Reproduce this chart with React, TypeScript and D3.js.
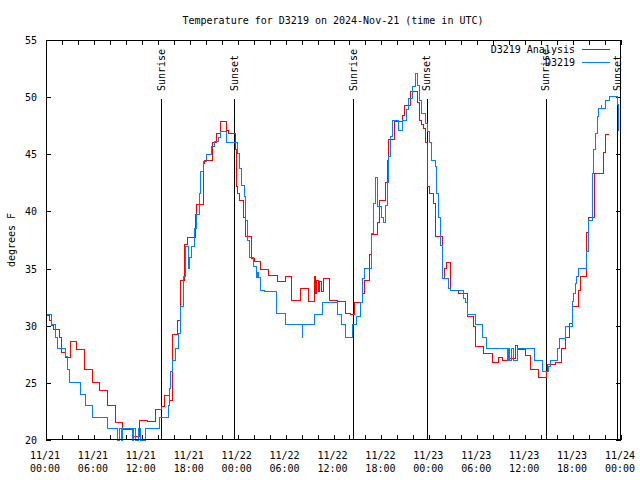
import React from "react";
import * as d3 from "d3";

// ---- data (hours since 2024-11-21 00:00 UTC, degrees F), step series ----
const obsSeries: [number, number][] = [
  [0, 31.0], [0.63, 30.1], [1.13, 29.0], [1.5, 28.0], [2.5, 27.3], [2.75, 26.2], [3.0, 25.0],
  [4.26, 24.0], [5.0, 23.0], [5.76, 22.0], [7.76, 21.0], [9.0, 20.0], [9.25, 21.0], [9.4, 20.0],
  [9.6, 21.0], [10.77, 20.0], [11.0, 21.0], [11.2, 20.0], [11.6, 21.0], [11.8, 20.0], [12.4, 21.0],
  [14.27, 22.0], [15.28, 23.0], [15.5, 24.5], [15.65, 26.0], [15.9, 27.0], [16.2, 28.0], [16.55, 29.3],
  [16.85, 31.7], [17.2, 34.3], [17.5, 36.9], [17.8, 35.0], [18.03, 36.0], [18.25, 36.9], [18.55, 38.5],
  [18.87, 39.7], [19.16, 41.6], [19.4, 43.5], [19.7, 44.4], [20.1, 45.0], [20.75, 45.7], [21.16, 46.1],
  [21.58, 46.5], [21.79, 47.0], [22.54, 46.0], [23.95, 45.1], [24.2, 43.8], [24.5, 42.3], [24.84, 41.3],
  [25.0, 39.2], [25.26, 37.5], [25.54, 36.0], [25.96, 35.2], [26.3, 34.2], [26.5, 34.7], [26.6, 34.2],
  [26.92, 33.1], [27.42, 33.0], [28.88, 31.1], [30.05, 30.1], [32.06, 29.0], [32.18, 30.1], [33.56, 31.0],
  [34.56, 32.0], [36.56, 31.0], [37.06, 30.1], [37.44, 29.0], [38.44, 30.1], [38.94, 30.8], [39.32, 32.0],
  [39.69, 34.1], [39.94, 35.0], [40.82, 38.1], [40.95, 40.7], [41.2, 43.0], [41.45, 42.5], [41.57, 40.4],
  [42.07, 39.5], [42.2, 39.0], [42.45, 40.5], [42.7, 42.5], [42.83, 44.8], [43.08, 46.6], [43.45, 48.0],
  [44.08, 47.1], [44.7, 48.0], [45.2, 48.9], [45.33, 49.9], [45.83, 50.9], [46.21, 52.1], [46.58, 51.0],
  [46.83, 49.75], [47.08, 48.6], [47.46, 47.7], [47.71, 47.0], [47.96, 46.0], [48.33, 44.5], [48.71, 43.9],
  [48.84, 41.6], [49.09, 39.5], [49.34, 37.0], [49.59, 35.0], [49.71, 34.1], [50.34, 33.3], [50.59, 33.1],
  [52.22, 32.4], [52.47, 32.0], [52.72, 31.0], [53.72, 30.1], [54.6, 29.0], [55.22, 28.0], [57.73, 27.0],
  [57.9, 28.0], [58.1, 27.0], [58.3, 28.0], [58.5, 27.0], [58.98, 28.0], [61.23, 27.0], [62.23, 26.0],
  [62.86, 26.4], [63.11, 27.0], [64.11, 28.0], [64.36, 28.9], [64.99, 29.9], [65.87, 32.1], [65.99, 32.8],
  [66.24, 33.7], [66.49, 34.3], [66.62, 35.0], [67.74, 36.5], [67.87, 39.25], [68.37, 43.3], [68.5, 45.4],
  [68.75, 46.8], [69.0, 48.3], [69.12, 49.0], [69.5, 49.3], [69.62, 49.0], [70.0, 49.75], [70.5, 50.1],
  [71.5, 49.4], [71.63, 47.1], [71.75, 47.1],
];

const anaSeries: [number, number][] = [
  [0, 30.9], [0.38, 30.5], [0.75, 30.0], [0.88, 29.7], [1.63, 29.0], [2.0, 27.7], [2.5, 27.2],
  [3.13, 28.6], [3.76, 27.9], [4.76, 26.2], [5.76, 25.0], [6.76, 24.3], [7.76, 23.0], [8.7, 21.5],
  [9.64, 20.9], [10.9, 20.35], [11.77, 21.7], [12.65, 21.6], [13.77, 22.7], [14.5, 22.9], [14.78, 23.9],
  [15.5, 23.5], [15.78, 29.2], [16.5, 30.5], [16.78, 32.9], [16.9, 34.0], [17.4, 37.1], [17.78, 37.7],
  [18.66, 39.7], [18.9, 40.6], [19.66, 43.2], [19.78, 44.2], [19.9, 44.5], [20.79, 46.0], [21.41, 46.8],
  [21.79, 47.9], [22.66, 47.1], [22.9, 46.8], [23.67, 45.4], [23.85, 44.6], [23.9, 42.2], [24.04, 41.6],
  [24.17, 41.0], [24.67, 39.5], [25.04, 37.8], [25.7, 35.9], [26.05, 35.6], [26.8, 34.9], [27.8, 34.4],
  [28.93, 33.9], [29.93, 34.3], [30.8, 32.25], [31.9, 33.3], [32.81, 32.1], [33.56, 34.3], [33.75, 32.8],
  [33.9, 34.0], [34.1, 33.0], [34.3, 33.9], [34.5, 33.0], [34.69, 34.1], [35.56, 32.25], [36.44, 32.1],
  [37.44, 31.1], [38.07, 31.0], [38.57, 31.5], [38.69, 32.0], [39.57, 32.8], [39.82, 34.0], [40.57, 36.2],
  [40.82, 38.0], [41.57, 39.0], [41.7, 41.0], [42.57, 42.5], [42.7, 44.5], [42.83, 46.3], [43.58, 47.1],
  [43.7, 47.9], [44.7, 48.4], [44.95, 49.3], [45.58, 50.5], [46.58, 49.5], [46.83, 48.0], [47.08, 47.6],
  [47.33, 47.3], [47.58, 46.0], [47.71, 43.6], [47.83, 42.2], [48.08, 41.6], [48.46, 40.7], [48.71, 37.8],
  [49.59, 35.9], [49.71, 34.1], [49.96, 35.0], [50.21, 35.5], [50.59, 33.1], [51.59, 32.8], [52.72, 30.8],
  [53.59, 29.9], [53.72, 28.2], [54.72, 27.6], [55.85, 26.8], [56.6, 27.2], [57.1, 27.0], [57.73, 27.4],
  [58.1, 27.1], [58.73, 28.3], [58.98, 27.9], [59.98, 27.4], [60.73, 26.2], [61.73, 25.5], [62.61, 26.0],
  [62.74, 26.6], [63.74, 26.8], [64.61, 28.0], [64.99, 29.0], [65.61, 30.2], [65.87, 31.7], [66.62, 33.1],
  [66.87, 34.35], [67.74, 38.2], [67.87, 39.5], [68.62, 43.3], [69.75, 45.2], [70.0, 46.7], [70.5, 46.7],
];

const sunEvents: { label: string; hour: number }[] = [
  { label: "Sunrise", hour: 14.42 },
  { label: "Sunset", hour: 23.6 },
  { label: "Sunrise", hour: 38.46 },
  { label: "Sunset", hour: 47.66 },
  { label: "Sunrise", hour: 62.55 },
  { label: "Sunset", hour: 71.56 },
];

const xTickHours = [0, 6, 12, 18, 24, 30, 36, 42, 48, 54, 60, 66, 72];
const xTickDates = ["11/21", "11/21", "11/21", "11/21", "11/22", "11/22", "11/22", "11/22", "11/23", "11/23", "11/23", "11/23", "11/24"];
const xTickTimes = ["00:00", "06:00", "12:00", "18:00", "00:00", "06:00", "12:00", "18:00", "00:00", "06:00", "12:00", "18:00", "00:00"];
const yTicks = [20, 25, 30, 35, 40, 45, 50, 55];
const seriesNames = ["D3219 Analysis", "D3219"];
const seriesColors = ["#ff0000", "#0080ff"];
const title = "Temperature for D3219 on 2024-Nov-21 (time in UTC)";

const FONT = "'DejaVu Sans Mono', 'Liberation Mono', monospace";

export default function App() {
  const W = 640, H = 480;
  const L = 46, R = 621, T = 40, B = 440;
  const x = d3.scaleLinear().domain([0, 72]).range([L, R]);
  const y = d3.scaleLinear().domain([20, 55]).range([B, T]);
  const line = d3
    .line<[number, number]>()
    .x((d) => x(d[0]))
    .y((d) => y(d[1]))
    .curve(d3.curveStepAfter);
  const minorX = d3.range(0, 73, 2);
  const fs = 10;

  return (
    <svg width={W} height={H} style={{ position: "absolute", left: 0, top: 0, background: "#fff" }} fontFamily={FONT} fontSize={fs}>
      <rect x={0} y={0} width={W} height={H} fill="#fff" />
      <text x={333} y={24} textAnchor="middle">{title}</text>
      {/* ticks */}
      <g stroke="#000" strokeWidth={1} shapeRendering="crispEdges">
        {minorX.map((h) => (
          <g key={"xt" + h}>
            <line x1={Math.round(x(h)) + 0.5} x2={Math.round(x(h)) + 0.5} y1={B} y2={B - 5} />
            <line x1={Math.round(x(h)) + 0.5} x2={Math.round(x(h)) + 0.5} y1={T} y2={T + 5} />
          </g>
        ))}
        {yTicks.map((v) => (
          <g key={"yt" + v}>
            <line x1={L} x2={L + 5} y1={Math.round(y(v)) + 0.5} y2={Math.round(y(v)) + 0.5} />
            <line x1={R} x2={R - 5} y1={Math.round(y(v)) + 0.5} y2={Math.round(y(v)) + 0.5} />
          </g>
        ))}
      </g>
      {yTicks.map((v) => (
        <text key={"yl" + v} x={37} y={y(v) + 4} textAnchor="end">{v}</text>
      ))}
      {xTickHours.map((h, i) => (
        <g key={"xl" + h}>
          <text x={x(h) - 1} y={459} textAnchor="middle">{xTickDates[i]}</text>
          <text x={x(h) - 1} y={472} textAnchor="middle">{xTickTimes[i]}</text>
        </g>
      ))}
      <text transform={`translate(15,240) rotate(-90)`} textAnchor="middle">degrees F</text>
      {/* sun lines */}
      {sunEvents.map((s, i) => (
        <g key={"sun" + i}>
          <line x1={Math.round(x(s.hour)) + 0.5} x2={Math.round(x(s.hour)) + 0.5} y1={99} y2={B} stroke="#000" strokeWidth={1} shapeRendering="crispEdges" />
          <text transform={`translate(${x(s.hour)},91) rotate(-90)`} textAnchor="start" dy="0.35em">{s.label}</text>
        </g>
      ))}
      {/* series */}
      <path d={line(anaSeries) || ""} fill="none" stroke={seriesColors[0]} strokeWidth={1} shapeRendering="crispEdges" />
      <path d={line(obsSeries) || ""} fill="none" stroke={seriesColors[1]} strokeWidth={1} shapeRendering="crispEdges" />
      {/* legend */}
      {seriesNames.map((n, i) => (
        <g key={"lg" + i}>
          <text x={575} y={49 + i * 13 + 4} textAnchor="end">{n}</text>
          <line x1={582} x2={610} y1={49.5 + i * 13} y2={49.5 + i * 13} stroke={seriesColors[i]} strokeWidth={1} shapeRendering="crispEdges" />
        </g>
      ))}
      {/* border */}
      <rect x={L + 0.5} y={T + 0.5} width={R - L - 1} height={B - T - 1} fill="none" stroke="#000" strokeWidth={1} shapeRendering="crispEdges" />
    </svg>
  );
}
